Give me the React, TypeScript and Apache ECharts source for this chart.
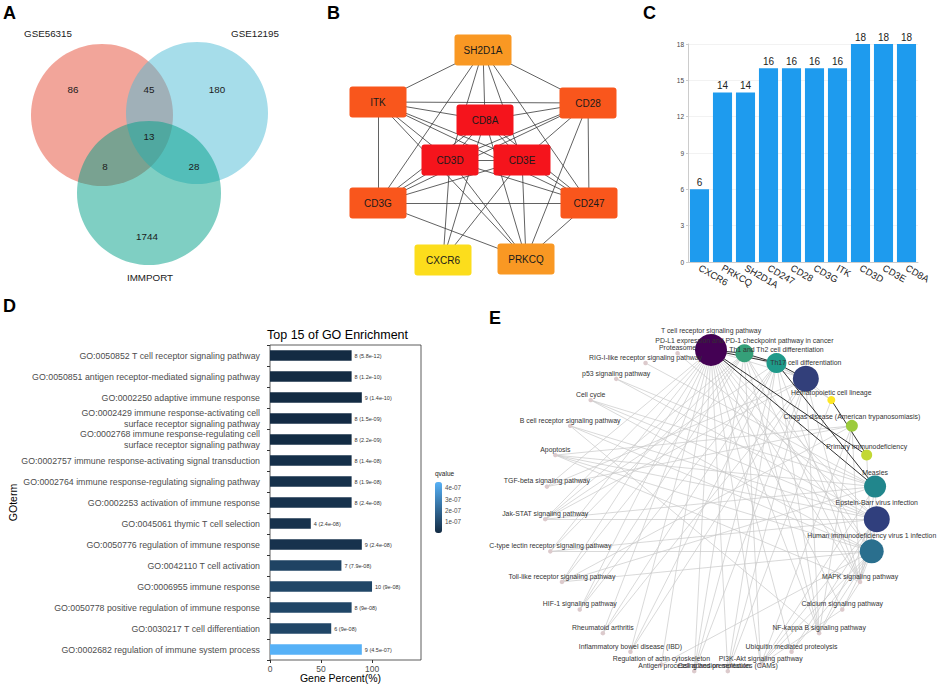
import React, { useEffect, useRef } from "react";
import * as echarts from "echarts";

const FONT = 'Arial, "Liberation Sans", Helvetica, sans-serif';

// ---------- Panel A: Venn diagram ----------
const vennSetNames = ["GSE56315", "GSE12195", "IMMPORT"];
const vennSetColors = ["#E64B35", "#4DBBD5", "#00A087"];
const vennCircleX = [102, 197, 149];
const vennCircleY = [115, 113, 193];
const vennCircleR = [71, 71, 72];
const vennSetLabelX = [48, 255, 150];
const vennSetLabelY = [33, 33, 277];
const vennRegionCounts = [86, 45, 180, 13, 8, 28, 1744];
const vennRegionX = [73, 149, 217, 149, 105, 194, 147];
const vennRegionY = [89, 89, 89, 136, 166, 166, 236];

// ---------- Panels B & C: hub genes ----------
const hubGenes = ["CXCR6", "PRKCQ", "SH2D1A", "CD247", "CD28", "CD3G", "ITK", "CD3D", "CD3E", "CD8A"];
const hubDegree = [6, 14, 14, 16, 16, 16, 16, 18, 18, 18];
const hubNodeX = [443, 526, 483, 589, 588, 378, 378, 450, 522, 485];
const hubNodeY = [260, 259, 50, 203, 103, 203, 102, 160, 160, 120];
const hubDegreeColor: Record<number, string> = { 6: "#FCDD1C", 14: "#F99823", 16: "#F9561C", 18: "#F5141C" };
const hubEdges = [
  ["CD8A", "CD3D"], ["CD8A", "CD3E"], ["CD3D", "CD3E"],
  ["CD8A", "SH2D1A"], ["CD8A", "ITK"], ["CD8A", "CD28"], ["CD8A", "CD3G"], ["CD8A", "CD247"], ["CD8A", "CXCR6"], ["CD8A", "PRKCQ"],
  ["CD3D", "SH2D1A"], ["CD3D", "ITK"], ["CD3D", "CD28"], ["CD3D", "CD3G"], ["CD3D", "CD247"], ["CD3D", "CXCR6"], ["CD3D", "PRKCQ"],
  ["CD3E", "SH2D1A"], ["CD3E", "ITK"], ["CD3E", "CD28"], ["CD3E", "CD3G"], ["CD3E", "CD247"], ["CD3E", "CXCR6"], ["CD3E", "PRKCQ"],
  ["SH2D1A", "ITK"], ["SH2D1A", "CD28"], ["SH2D1A", "CD3G"], ["SH2D1A", "CD247"],
  ["ITK", "CD28"], ["ITK", "CD3G"], ["ITK", "CD247"], ["ITK", "PRKCQ"],
  ["CD28", "CD3G"], ["CD28", "CD247"], ["CD28", "PRKCQ"],
  ["CD3G", "CD247"], ["CD3G", "PRKCQ"],
  ["CD247", "PRKCQ"],
];

// ---------- Panel D: GO enrichment ----------
const goTerms = [
  "GO:0050852 T cell receptor signaling pathway",
  "GO:0050851 antigen receptor-mediated signaling pathway",
  "GO:0002250 adaptive immune response",
  "GO:0002429 immune response-activating cell\nsurface receptor signaling pathway",
  "GO:0002768 immune response-regulating cell\nsurface receptor signaling pathway",
  "GO:0002757 immune response-activating signal transduction",
  "GO:0002764 immune response-regulating signaling pathway",
  "GO:0002253 activation of immune response",
  "GO:0045061 thymic T cell selection",
  "GO:0050776 regulation of immune response",
  "GO:0042110 T cell activation",
  "GO:0006955 immune response",
  "GO:0050778 positive regulation of immune response",
  "GO:0030217 T cell differentiation",
  "GO:0002682 regulation of immune system process",
];
const goCount = [8, 8, 9, 8, 8, 8, 8, 8, 4, 9, 7, 10, 8, 6, 9];
const goPercent = [80, 80, 90, 80, 80, 80, 80, 80, 40, 90, 70, 100, 80, 60, 90];
const goQvalue = [5.8e-12, 1.2e-10, 1.4e-10, 1.5e-9, 2.2e-9, 1.4e-8, 1.9e-8, 2.4e-8, 2.4e-8, 2.4e-8, 7.9e-8, 9e-8, 9e-8, 9e-8, 4.5e-7];
const goPercentTicks = [0, 50, 100];
const qvalueTicks = [1e-7, 2e-7, 3e-7, 4e-7];

// ---------- Panel E: pathway network (circular order, starting at top, going anticlockwise) ----------
const pathwayKeys = ["TCR", "PROT", "RIG", "P53", "CC", "BCR", "APOP", "TGFB", "JAK", "CTL", "TLR", "HIF1", "RA", "IBD", "ACTIN", "ANTI",
  "CAMS", "PI3K", "UBIQ", "NFKB", "CALC", "MAPK", "HIV", "EBV", "MEAS", "PRIM", "CHAG", "HEMA", "TH17", "TH12", "PDL1"];
const pathwayNames = [
  "T cell receptor signaling pathway",
  "Proteasome",
  "RIG-I-like receptor signaling pathway",
  "p53 signaling pathway",
  "Cell cycle",
  "B cell receptor signaling pathway",
  "Apoptosis",
  "TGF-beta signaling pathway",
  "Jak-STAT signaling pathway",
  "C-type lectin receptor signaling pathway",
  "Toll-like receptor signaling pathway",
  "HIF-1 signaling pathway",
  "Rheumatoid arthritis",
  "Inflammatory bowel disease (IBD)",
  "Regulation of actin cytoskeleton",
  "Antigen processing and presentation",
  "Cell adhesion molecules (CAMs)",
  "PI3K-Akt signaling pathway",
  "Ubiquitin mediated proteolysis",
  "NF-kappa B signaling pathway",
  "Calcium signaling pathway",
  "MAPK signaling pathway",
  "Human immunodeficiency virus 1 infection",
  "Epstein-Barr virus infection",
  "Measles",
  "Primary immunodeficiency",
  "Chagas disease (American trypanosomiasis)",
  "Hematopoietic cell lineage",
  "Th17 cell differentiation",
  "Th1 and Th2 cell differentiation",
  "PD-L1 expression and PD-1 checkpoint pathway in cancer",
];
const pathwayDot = [32, 4.5, 4.5, 4.5, 4.5, 4.5, 4.5, 4.5, 4.5, 4.5, 4.5, 4.5, 4.5, 4.5, 4.5, 4.5,
  4.5, 4.5, 4.5, 4.5, 4.5, 4.5, 24, 26, 22, 11, 12, 8, 26, 20, 18];
const smallDot = "#DCCACC";
const pathwayColor = ["#440154", smallDot, smallDot, smallDot, smallDot, smallDot, smallDot, smallDot, smallDot, smallDot, smallDot,
  smallDot, smallDot, smallDot, smallDot, smallDot, smallDot, smallDot, smallDot, smallDot, smallDot, smallDot,
  "#2A6F8E", "#303F7D", "#21868C", "#C2D834", "#9CCB3C", "#FDE725", "#323F7A", "#1F9A8A", "#35A079"];
const grayEdges = [
  ["TCR", "TH17"], ["TCR", "HIV"], ["TCR", "EBV"], ["TCR", "JAK"], ["TCR", "TLR"], ["TCR", "CTL"], ["TCR", "HIF1"], ["TCR", "RA"],
  ["TCR", "IBD"], ["TCR", "ACTIN"], ["TCR", "ANTI"], ["TCR", "CAMS"], ["TCR", "PI3K"], ["TCR", "NFKB"], ["TCR", "CALC"], ["TCR", "MAPK"],
  ["TCR", "TGFB"], ["TCR", "UBIQ"],
  ["PDL1", "TH17"], ["PDL1", "JAK"], ["PDL1", "TLR"], ["PDL1", "PI3K"], ["PDL1", "MAPK"], ["PDL1", "CTL"], ["PDL1", "NFKB"],
  ["PDL1", "HIF1"], ["PDL1", "ANTI"], ["PDL1", "HIV"],
  ["TH12", "JAK"], ["TH12", "CAMS"], ["TH12", "ANTI"], ["TH12", "IBD"], ["TH12", "RA"], ["TH12", "HIF1"], ["TH12", "NFKB"],
  ["TH12", "MAPK"], ["TH12", "HEMA"],
  ["TH17", "JAK"], ["TH17", "TGFB"], ["TH17", "IBD"], ["TH17", "RA"], ["TH17", "CAMS"], ["TH17", "MAPK"], ["TH17", "NFKB"],
  ["TH17", "ANTI"], ["TH17", "HEMA"],
  ["HEMA", "CAMS"],
  ["CHAG", "TLR"], ["CHAG", "MAPK"], ["CHAG", "APOP"], ["CHAG", "TGFB"], ["CHAG", "NFKB"], ["CHAG", "PI3K"],
  ["PRIM", "HIV"],
  ["MEAS", "JAK"], ["MEAS", "TLR"], ["MEAS", "APOP"], ["MEAS", "CC"], ["MEAS", "P53"], ["MEAS", "RIG"], ["MEAS", "PI3K"],
  ["MEAS", "MAPK"], ["MEAS", "EBV"],
  ["EBV", "JAK"], ["EBV", "CC"], ["EBV", "P53"], ["EBV", "BCR"], ["EBV", "APOP"], ["EBV", "NFKB"], ["EBV", "PI3K"], ["EBV", "MAPK"],
  ["EBV", "CTL"], ["EBV", "PROT"], ["EBV", "UBIQ"], ["EBV", "HIV"],
  ["HIV", "TLR"], ["HIV", "CTL"], ["HIV", "BCR"], ["HIV", "APOP"], ["HIV", "CC"], ["HIV", "MAPK"], ["HIV", "CALC"], ["HIV", "NFKB"],
  ["HIV", "PI3K"], ["HIV", "ACTIN"], ["HIV", "UBIQ"],
  ["MAPK", "CALC"], ["MAPK", "APOP"], ["BCR", "NFKB"], ["CALC", "PI3K"],
];
const blackEdges = [
  ["TCR", "PDL1"], ["TCR", "TH12"], ["PDL1", "TH12"], ["TH12", "TH17"], ["TCR", "MEAS"], ["TCR", "PRIM"], ["TH12", "MEAS"], ["HEMA", "PRIM"],
];
// circle layout of the pathway network (centre and radii, in page pixels)
const E_LAYOUT = { cx: 711, cy: 511, rx: 166, ry: 161 };
// small-radius rounded box used for the PPI nodes
const HUB_BOX = "path://M3,0L54,0Q57,0 57,3L57,28Q57,31 54,31L3,31Q0,31 0,28L0,3Q0,0 3,0Z";

function fmtExp(v: number, digits?: number): string {
  const s = digits === undefined ? v.toExponential() : v.toExponential(digits);
  return s.replace(/e([+-])(\d+)$/, (_m, sign, d) => "e" + sign + (d.length < 2 ? "0" + d : d));
}

function buildOption(): any {
  const pathName = (key: string) => pathwayNames[pathwayKeys.indexOf(key)];
  const n = pathwayKeys.length;
  const pathwayNodes = pathwayNames.map((name, k) => {
    const th = ((270 - (k * 360) / n) * Math.PI) / 180;
    return {
      name,
      value: [E_LAYOUT.cx + E_LAYOUT.rx * Math.cos(th), E_LAYOUT.cy + E_LAYOUT.ry * Math.sin(th)],
      symbolSize: pathwayDot[k],
      itemStyle: { color: pathwayColor[k] },
    };
  });
  const pathwayLinks = [
    ...grayEdges.map(([a, b]) => ({ source: pathName(a), target: pathName(b) })),
    ...blackEdges.map(([a, b]) => ({ source: pathName(a), target: pathName(b), lineStyle: { color: "#1a1a1a", width: 0.9 } })),
  ];

  const vennLabels = [
    ...vennSetNames.map((t, i) => [vennSetLabelX[i], vennSetLabelY[i], t]),
    ...vennRegionCounts.map((c, i) => [vennRegionX[i], vennRegionY[i], String(c)]),
  ];

  const panelLetter = (text: string, left: number, top: number) => ({
    text, left, top, padding: 0,
    textStyle: { fontSize: 18, fontWeight: "bold", color: "#000", fontFamily: FONT },
  });

  return {
    animation: false,
    backgroundColor: "#fff",
    textStyle: { fontFamily: FONT },
    title: [
      panelLetter("A", 3, 4),
      panelLetter("B", 327, 4),
      panelLetter("C", 643, 4),
      panelLetter("D", 3, 297),
      panelLetter("E", 489, 309),
      { text: "Top 15 of GO Enrichment", left: 267, top: 328, padding: 0,
        textStyle: { fontSize: 12.5, fontWeight: "normal", color: "#000" } },
      { text: "qvalue", left: 435, top: 470, padding: 0,
        textStyle: { fontSize: 6.5, fontWeight: "normal", color: "#222" } },
    ],
    grid: [
      { left: 0, top: 0, right: 0, bottom: 0, containLabel: false, outerBoundsMode: "none" },
      { left: 688, top: 44, width: 230, height: 218, containLabel: false, outerBoundsMode: "none" },
      { left: 270, top: 345, width: 151, height: 315, show: true, borderColor: "#333", borderWidth: 0.8,
        backgroundColor: "transparent", containLabel: false, outerBoundsMode: "none" },
      { left: 435, top: 482, width: 7, height: 51, containLabel: false, outerBoundsMode: "none" },
    ],
    xAxis: [
      { gridIndex: 0, type: "value", min: 0, max: 941, show: false },
      {
        gridIndex: 1, type: "category", data: hubGenes,
        axisLine: { lineStyle: { color: "#cccccc", width: 1 } },
        axisTick: { show: false },
        axisLabel: { rotate: -30, fontSize: 9.5, color: "#222", margin: 5, interval: 0 },
      },
      {
        gridIndex: 2, type: "value", min: 0, max: 148,
        splitLine: { show: false }, axisLine: { show: false },
        axisTick: { show: true, length: 3, lineStyle: { color: "#333" }, customValues: goPercentTicks },
        axisLabel: { fontSize: 8.5, color: "#4D4D4D", margin: 4, customValues: goPercentTicks },
        name: "Gene Percent(%)", nameLocation: "middle", nameGap: 12, nameMoveOverlap: false,
        nameTextStyle: { fontSize: 10.5, color: "#000", verticalAlign: "top", padding: [0, 10, 0, 0] },
      },
      { gridIndex: 3, type: "value", min: 0, max: 1, show: false },
    ],
    yAxis: [
      { gridIndex: 0, type: "value", min: 0, max: 684, inverse: true, show: false },
      {
        gridIndex: 1, type: "value", min: 0, max: 18, interval: 3,
        axisLine: { show: true, lineStyle: { color: "#cccccc" } },
        axisTick: { show: true, length: 2, lineStyle: { color: "#cccccc" } },
        axisLabel: { fontSize: 6.5, color: "#444", margin: 4 },
        splitLine: { show: true, lineStyle: { color: "#efefef", width: 0.8 } },
      },
      {
        gridIndex: 2, type: "category", data: goTerms, inverse: true,
        axisLine: { show: false },
        axisTick: { show: true, length: 3, lineStyle: { color: "#333" } },
        axisLabel: { fontSize: 8.8, color: "#4D4D4D", margin: 10, lineHeight: 10.5, align: "right" },
        name: "GOterm", nameLocation: "middle", nameGap: 252, nameMoveOverlap: false,
        nameTextStyle: { fontSize: 10.5, color: "#000" },
      },
      {
        gridIndex: 3, type: "value", min: 0, max: Math.max(...goQvalue), position: "right",
        axisLine: { show: false }, splitLine: { show: false },
        axisTick: { show: false },
        axisLabel: {
          fontSize: 6.3, color: "#4D4D4D", margin: 3, customValues: qvalueTicks,
          formatter: (v: number) => fmtExp(v, 0),
        },
      },
    ],
    visualMap: [
      {
        type: "continuous", seriesIndex: 4, dimension: 2,
        min: Math.min(...goQvalue), max: Math.max(...goQvalue),
        inRange: { color: ["#132B43", "#56B1F7"] },
        left: 435, top: 482, itemWidth: 7, itemHeight: 51, padding: 0,
        calculable: false, hoverLink: false, orient: "vertical", text: null,
        textStyle: { fontSize: 0 },
      },
    ],
    series: [
      {
        type: "custom", xAxisIndex: 0, yAxisIndex: 0, silent: true,
        data: vennSetNames.map((_, i) => [vennCircleX[i], vennCircleY[i], vennCircleR[i]]),
        renderItem: (params: any, api: any) => {
          const c = api.coord([api.value(0), api.value(1)]);
          const s = api.size([api.value(2), api.value(2)]);
          return {
            type: "circle",
            shape: { cx: c[0], cy: c[1], r: s[0] },
            style: { fill: echarts.color.modifyAlpha(vennSetColors[params.dataIndex], 0.5), stroke: "none" },
          };
        },
      },
      {
        type: "custom", xAxisIndex: 0, yAxisIndex: 0, silent: true, z: 5,
        data: vennLabels,
        renderItem: (params: any, api: any) => {
          const c = api.coord([api.value(0), api.value(1)]);
          const t = vennLabels[params.dataIndex][2] as string;
          return {
            type: "text", x: c[0], y: c[1],
            style: { text: t, fontSize: 9.8, fontFamily: FONT, fill: "#1a1a1a", align: "center", verticalAlign: "middle" },
          };
        },
      },
      {
        type: "graph", coordinateSystem: "cartesian2d", xAxisIndex: 0, yAxisIndex: 0,
        symbol: HUB_BOX, symbolSize: [57, 31], roam: false, silent: true,
        data: hubGenes.map((g, i) => ({
          name: g, value: [hubNodeX[i], hubNodeY[i]],
          itemStyle: { color: hubDegreeColor[hubDegree[i]] },
        })),
        links: hubEdges.map(([a, b]) => ({ source: a, target: b })),
        lineStyle: { color: "#3a3a3a", width: 0.8, opacity: 1, curveness: 0 },
        label: { show: true, position: "inside", fontSize: 10, color: "#1a1a1a" },
        z: 3,
      },
      {
        type: "bar", xAxisIndex: 1, yAxisIndex: 1, data: hubDegree,
        barCategoryGap: "17%",
        itemStyle: { color: "#1E9BEE" },
        label: { show: true, position: "top", fontSize: 10, color: "#222", distance: 2 },
      },
      {
        type: "bar", xAxisIndex: 2, yAxisIndex: 2,
        data: goPercent.map((v, i) => [v, goTerms[i], goQvalue[i]]),
        encode: { x: 0, y: 1 },
        barWidth: "50%",
        label: {
          show: true, position: "right", distance: 3, fontSize: 5.5, color: "#333",
          formatter: (p: any) => `${goCount[p.dataIndex]} (${fmtExp(goQvalue[p.dataIndex])})`,
        },
      },
      {
        type: "graph", coordinateSystem: "cartesian2d", xAxisIndex: 0, yAxisIndex: 0,
        roam: false, silent: true, symbol: "circle",
        data: pathwayNodes,
        links: pathwayLinks,
        lineStyle: { color: "#C9C9C9", width: 0.7, opacity: 1, curveness: 0 },
        label: { show: true, position: "top", distance: 0, fontSize: 6.9, color: "#333" },
        z: 3,
      },
    ],
  };
}

export default function App() {
  const ref = useRef<HTMLDivElement>(null);
  useEffect(() => {
    if (!ref.current) return;
    const chart = echarts.init(ref.current, null, { renderer: "svg" });
    chart.setOption(buildOption());
    return () => chart.dispose();
  }, []);
  return (
    <div
      ref={ref}
      style={{ position: "fixed", left: 0, top: 0, width: 941, height: 684, background: "#fff" }}
    />
  );
}
